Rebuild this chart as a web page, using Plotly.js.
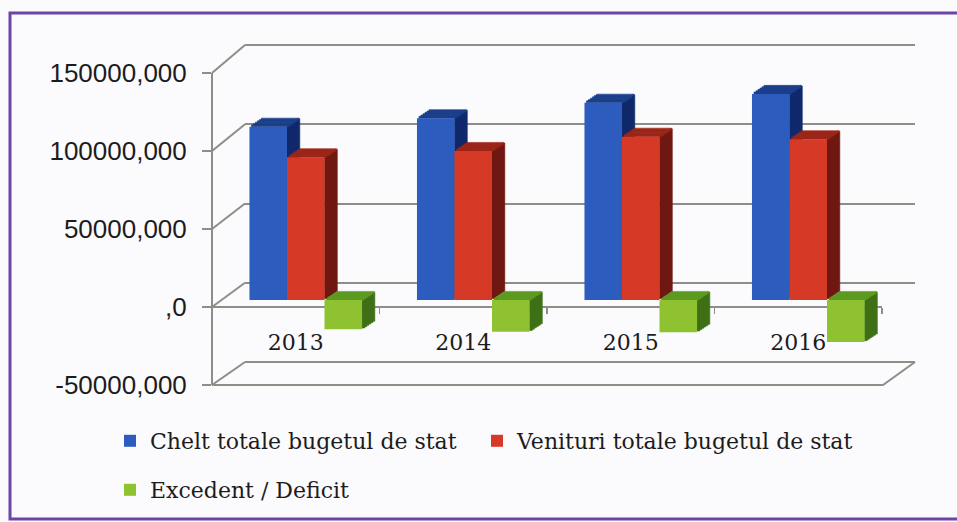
<!DOCTYPE html>
<html>
<head>
<meta charset="utf-8">
<script src="https://cdn.plot.ly/plotly-3.0.1.min.js"></script>
<style>html,body{margin:0;padding:0;background:#fbfafc;}#chart{width:957px;height:522px;}</style>
</head>
<body>
<div id="chart"></div>
<script>
// ---- data ----
const years = ['2013', '2014', '2015', '2016'];
const cheltuieli = [110500, 115900, 125800, 131400];   // Chelt totale bugetul de stat
const venituri = [91000, 95000, 104100, 102500];       // Venituri totale bugetul de stat
const excedent = [-18700, -20300, -20600, -26800];     // Excedent / Deficit
const seriesNames = ['Chelt totale bugetul de stat', 'Venituri totale bugetul de stat', 'Excedent / Deficit'];
const yTickVals = [-50000, 0, 50000, 100000, 150000];
const yTickText = ['-50000,000', ',0', '50000,000', '100000,000', '150000,000'];

// ---- geometry (pixels) ----
const W = 957, H = 522;
const px = x => x / W;
const py = y => 1 - y / H;
const BACK = {x0: 245, x1: 915, yTop: 45, yBot: 362};
const FRONT = {x0: 212, x1: 882, yTop: 73, yBot: 385};
const BARS = {x0: 222, x1: 892, yTop: 64.8, yBot: 378.4};
const yMin = -50000, yMax = 150000;
const yPix = (p, v) => p.yBot - (v - yMin) / (yMax - yMin) * (p.yBot - p.yTop);
// back wall axis padded slightly so the edge gridlines are drawn
const pad = 2000;
const backPadPx = pad * (BACK.yBot - BACK.yTop) / (yMax - yMin);

const catPx = (BARS.x1 - BARS.x0) / years.length;
const unitPx = (BARS.yBot - BARS.yTop) / (yMax - yMin);
const depthX = 12 / catPx;       // depth offset in category units
const depthY = 8 / unitPx;       // depth offset in value units
const K = 6;
const barW = 0.224;
const offsets = [-0.336, -0.112, 0.112];
const frontCol = ['#2c5cbe', '#d63a27', '#8fc231'];
const topCol = ['#1d3f8c', '#9c2619', '#5e9a22'];
const sideCol = ['#112a6c', '#701812', '#3f7117'];
const legendFor = ['legend', 'legend3', 'legend2'];
const allVals = [cheltuieli, venituri, excedent];

const traces = [];
// helper traces that register the back wall and front frame subplots
traces.push({type: 'scatter', mode: 'none', x: years, y: cheltuieli, xaxis: 'x', yaxis: 'y', showlegend: false, hoverinfo: 'skip'});
traces.push({type: 'scatter', mode: 'none', x: years, y: cheltuieli, xaxis: 'x2', yaxis: 'y2', showlegend: false, hoverinfo: 'skip'});

allVals.forEach((vals, s) => {
  const T = vals.map(v => Math.max(v, 0));
  const B = vals.map(v => Math.min(v, 0));
  const off = offsets[s];
  const ov = 0.8 / catPx;
  // side faces (stepped parallelogram)
  for (let k = 1; k <= K; k++) {
    const dxa = depthX * (k - 1) / K, dxb = depthX * k / K, dyb = depthY * k / K;
    traces.push({type: 'bar', x: years, y: T.map((t, i) => t - B[i]), base: B.map(b => b + dyb),
      offset: off + barW + dxa, width: dxb - dxa + ov, xaxis: 'x3', yaxis: 'y3',
      marker: {color: sideCol[s], line: {width: 0.6, color: sideCol[s]}}, showlegend: false, hoverinfo: 'skip'});
  }
  // top faces
  for (let k = 1; k <= K; k++) {
    const dxb = depthX * k / K, dya = depthY * (k - 1) / K, dyb = depthY * k / K;
    traces.push({type: 'bar', x: years, y: T.map(() => dyb - dya + 0.6 / unitPx), base: T.map(t => t + dya),
      offset: off + dxb, width: barW, xaxis: 'x3', yaxis: 'y3',
      marker: {color: topCol[s], line: {width: 0.6, color: topCol[s]}}, showlegend: false, hoverinfo: 'skip'});
  }
  // front face
  traces.push({type: 'bar', name: seriesNames[s], x: years, y: vals, offset: off, width: barW,
    xaxis: 'x3', yaxis: 'y3', legend: legendFor[s],
    marker: {color: frontCol[s], line: {width: 0}}, hovertemplate: '%{x}: %{y}<extra>' + seriesNames[s] + '</extra>'});
});

// frame decoration: diagonals from front axis ticks to back wall, front floor edge, border
const gridCol = '#8e8e88';
const shapes = [];
yTickVals.forEach(t => {
  shapes.push({type: 'line', xref: 'paper', yref: 'paper', layer: 'below',
    x0: px(FRONT.x0), y0: py(yPix(FRONT, t)), x1: px(BACK.x0), y1: py(yPix(BACK, t)),
    line: {color: gridCol, width: 2}});
});
shapes.push({type: 'path', xref: 'paper', yref: 'paper', layer: 'below',
  path: `M${px(FRONT.x0)},${py(FRONT.yBot)} L${px(FRONT.x1 + 1)},${py(FRONT.yBot)} L${px(BACK.x1)},${py(BACK.yBot)}`,
  line: {color: gridCol, width: 2}});
shapes.push({type: 'rect', xref: 'paper', yref: 'paper', layer: 'below',
  x0: px(10), x1: px(962), y0: py(519), y1: py(13), line: {color: '#6b45a8', width: 3}});

const serif = 'DejaVu Serif, Liberation Serif, serif';
const legendFont = {family: serif, size: 22, color: '#1c1c1c'};
const layout = {
  width: W, height: H,
  margin: {l: 0, r: 0, t: 0, b: 0},
  paper_bgcolor: '#fbfafc', plot_bgcolor: 'rgba(0,0,0,0)',
  barmode: 'overlay',
  showlegend: true,
  // back wall
  xaxis: {type: 'category', domain: [px(BACK.x0), px(BACK.x1)], range: [-0.5, 3.5], anchor: 'y',
    showgrid: false, showline: false, zeroline: false, showticklabels: false, ticks: '', fixedrange: true},
  yaxis: {domain: [py(BACK.yBot + backPadPx), py(BACK.yTop - backPadPx)], range: [yMin - pad, yMax + pad], anchor: 'x',
    tickmode: 'array', tickvals: yTickVals, showgrid: true, gridcolor: gridCol, gridwidth: 2,
    showline: false, zeroline: false, showticklabels: false, ticks: '', fixedrange: true},
  // front frame
  xaxis2: {type: 'category', domain: [px(FRONT.x0), px(FRONT.x1)], range: [-0.5, 3.5],
    anchor: 'free', position: py(yPix(FRONT, 0)),
    showline: true, linecolor: gridCol, linewidth: 2, zeroline: false, showgrid: false,
    ticks: 'outside', tickson: 'boundaries', ticklen: 6, tickwidth: 1.5, tickcolor: gridCol,
    ticklabelstandoff: 16,
    tickfont: {family: serif, size: 22, color: '#1c1c1c'}, fixedrange: true},
  yaxis2: {domain: [py(FRONT.yBot), py(FRONT.yTop)], range: [yMin, yMax],
    anchor: 'free', position: px(FRONT.x0), side: 'left',
    tickmode: 'array', tickvals: yTickVals, ticktext: yTickText,
    showline: true, linecolor: gridCol, linewidth: 2, zeroline: false, showgrid: false,
    ticks: 'outside', ticklen: 9, tickwidth: 1.5, tickcolor: gridCol, ticklabelstandoff: 10,
    tickfont: {family: 'Liberation Sans, Arial, sans-serif', size: 26, color: '#1c1c1c'}, fixedrange: true},
  // bars plane
  xaxis3: {type: 'category', domain: [px(BARS.x0), px(BARS.x1)], range: [-0.5, 3.5], anchor: 'y3',
    visible: false, fixedrange: true},
  yaxis3: {domain: [py(BARS.yBot), py(BARS.yTop)], range: [yMin, yMax], anchor: 'x3',
    visible: false, fixedrange: true},
  legend: {orientation: 'h', x: px(110), xanchor: 'left', y: py(441), yanchor: 'middle',
    bgcolor: 'rgba(0,0,0,0)', font: legendFont},
  legend3: {orientation: 'h', x: px(477), xanchor: 'left', y: py(441), yanchor: 'middle',
    bgcolor: 'rgba(0,0,0,0)', font: legendFont},
  legend2: {orientation: 'h', x: px(110), xanchor: 'left', y: py(490), yanchor: 'middle',
    bgcolor: 'rgba(0,0,0,0)', font: legendFont},
  shapes: shapes
};

Plotly.newPlot('chart', traces, layout, {displayModeBar: false, staticPlot: true});
</script>
</body>
</html>
